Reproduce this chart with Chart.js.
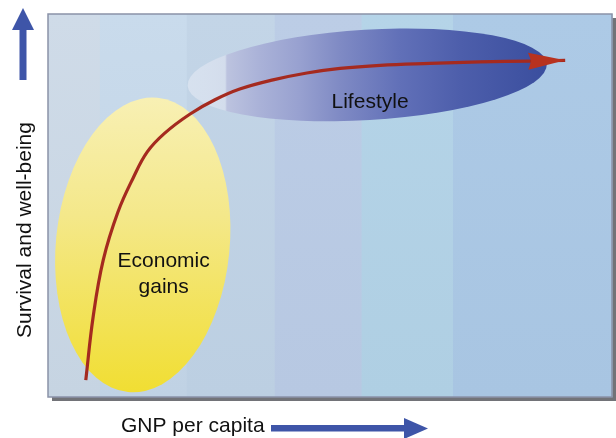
<!DOCTYPE html>
<html><head><meta charset="utf-8">
<script src="https://cdn.jsdelivr.net/npm/chart.js@4/dist/chart.umd.min.js"></script>
<style>html,body{margin:0;padding:0;background:#fff;}canvas{display:block;}</style>
</head><body>
<canvas id="c" width="616" height="438"></canvas>
<script>
// Development path (conceptual): x = GNP per capita, y = survival and well-being (0-100 scale)
const pathX = [6.7, 8.0, 9.8, 12.4, 15.1, 17.6, 20.7, 25.2, 29.6, 34.0, 39.9, 45.9, 51.8, 58.9, 67.7, 76.6, 85.5, 91.7];
const pathY = [4.4, 20.9, 35.8, 48.3, 57.2, 64.0, 68.9, 73.9, 77.6, 80.4, 82.8, 84.6, 85.8, 86.6, 87.1, 87.5, 87.7, 87.9];

// Regions (ellipses) in the same data units
const regionNames = ['Economic gains', 'Lifestyle'];
const regionCX = [16.8, 56.6];
const regionCY = [39.7, 84.1];
const regionRX = [15.4, 31.9];
const regionRY = [38.6, 11.8];

// Background bands along the GNP axis
const bandEdges = [0, 9.2, 24.6, 40.2, 55.6, 71.8, 100];

const axisTitles = ['GNP per capita', 'Survival and well-being'];

const FONT = '21px "Liberation Sans", Arial, Helvetica, sans-serif';
const bandTop = ['#cfdbe8', '#c9dbec', '#c3d5e7', '#bccde6', '#b5d4e8', '#adcae6'];
const bandBot = ['#c6d4e2', '#c0d2e4', '#bccfe2', '#b7c8e2', '#afcfe3', '#a8c5e2'];

const diagram = {
  id: 'diagram',
  beforeDatasetsDraw(chart) {
    const {ctx, chartArea: a, scales: {x, y}} = chart;
    ctx.save();
    // shadow
    ctx.fillStyle = '#727378';
    ctx.fillRect(a.left + 4, a.top + 4, a.width, a.height);
    // bands
    for (let i = 0; i < bandEdges.length - 1; i++) {
      const x0 = x.getPixelForValue(bandEdges[i]);
      const x1 = x.getPixelForValue(bandEdges[i + 1]);
      const g = ctx.createLinearGradient(0, a.top, 0, a.bottom);
      g.addColorStop(0, bandTop[i]);
      g.addColorStop(1, bandBot[i]);
      ctx.fillStyle = g;
      ctx.fillRect(x0, a.top, x1 - x0 + 0.5, a.height);
    }
    // border
    ctx.strokeStyle = '#8a92a8';
    ctx.lineWidth = 1.5;
    ctx.strokeRect(a.left, a.top, a.width, a.height);

    const px = i => ({
      cx: x.getPixelForValue(regionCX[i]),
      cy: y.getPixelForValue(regionCY[i]),
      rx: x.getPixelForValue(regionCX[i] + regionRX[i]) - x.getPixelForValue(regionCX[i]),
      ry: y.getPixelForValue(regionCY[i]) - y.getPixelForValue(regionCY[i] + regionRY[i])
    });

    // Lifestyle ellipse (blue, horizontal gradient)
    const b = px(1);
    const gb = ctx.createLinearGradient(b.cx - b.rx, 0, b.cx + b.rx, 0);
    gb.addColorStop(0.00, 'rgba(228,234,244,0.6)');
    gb.addColorStop(0.105, 'rgba(214,222,237,0.85)');
    gb.addColorStop(0.11, '#bcc3df');
    gb.addColorStop(0.20, '#aab2d8');
    gb.addColorStop(0.31, '#98a1d0');
    gb.addColorStop(0.425, '#7f8ac4');
    gb.addColorStop(0.59, '#6170b8');
    gb.addColorStop(0.76, '#4d5eab');
    gb.addColorStop(1.00, '#3a4e9e');
    ctx.fillStyle = gb;
    ctx.beginPath();
    ctx.ellipse(b.cx, b.cy, b.rx, b.ry, -0.06, 0, Math.PI * 2);
    ctx.fill();

    // Economic gains ellipse (yellow, vertical gradient)
    const e = px(0);
    const gy = ctx.createLinearGradient(0, e.cy - e.ry, 0, e.cy + e.ry);
    gy.addColorStop(0, '#f8f0b4');
    gy.addColorStop(0.4, '#f4e88a');
    gy.addColorStop(1, '#f1de32');
    ctx.fillStyle = gy;
    ctx.beginPath();
    ctx.ellipse(e.cx, e.cy, e.rx, e.ry, 0.1, 0, Math.PI * 2);
    ctx.fill();
    ctx.restore();
  },
  afterDatasetsDraw(chart) {
    const {ctx, chartArea: a, scales: {x, y}} = chart;
    ctx.save();
    // arrowhead at end of path
    const n = pathX.length;
    const tx = x.getPixelForValue(pathX[n - 1]), ty = y.getPixelForValue(pathY[n - 1]);
    const sx = x.getPixelForValue(pathX[n - 2]), sy = y.getPixelForValue(pathY[n - 2]);
    let dx = tx - sx, dy = ty - sy;
    const L = Math.hypot(dx, dy); dx /= L; dy /= L;
    const len = 37, hw = 8.5;
    const bx = tx - dx * len, by = ty - dy * len;
    ctx.fillStyle = '#b8321f';
    ctx.beginPath();
    ctx.moveTo(tx, ty);
    ctx.lineTo(bx - dy * hw, by + dx * hw);
    ctx.lineTo(bx + dx * 3, by + dy * 3);
    ctx.lineTo(bx + dy * hw, by - dx * hw);
    ctx.closePath();
    ctx.fill();

    // region labels
    ctx.fillStyle = '#111';
    ctx.font = FONT;
    ctx.textAlign = 'center';
    ctx.textBaseline = 'middle';
    ctx.fillText(regionNames[1], x.getPixelForValue(57.1), y.getPixelForValue(77.0));
    const words = regionNames[0].split(' ');
    const ex = x.getPixelForValue(20.5);
    ctx.fillText(words[0], ex, y.getPixelForValue(35.4));
    ctx.fillText(words[1], ex, y.getPixelForValue(28.6));

    // axis arrows
    ctx.fillStyle = '#3e55a8';
    // up arrow
    ctx.fillRect(19.5, 29, 7, 51);
    ctx.beginPath();
    ctx.moveTo(12, 30); ctx.lineTo(34, 30); ctx.lineTo(23, 8); ctx.closePath(); ctx.fill();
    // right arrow
    ctx.fillRect(271, 425, 134, 6.5);
    ctx.beginPath();
    ctx.moveTo(404, 418); ctx.lineTo(404, 439); ctx.lineTo(428, 428.5); ctx.closePath(); ctx.fill();

    // axis titles
    ctx.fillStyle = '#111';
    ctx.textAlign = 'left';
    ctx.textBaseline = 'alphabetic';
    ctx.fillText(axisTitles[0], 121, 432);
    ctx.save();
    ctx.translate(31, 230);
    ctx.rotate(-Math.PI / 2);
    ctx.textAlign = 'center';
    ctx.fillText(axisTitles[1], 0, 0);
    ctx.restore();
    ctx.restore();
  }
};

new Chart(document.getElementById('c'), {
  type: 'scatter',
  data: {
    datasets: [{
      data: pathX.map((v, i) => ({x: v, y: pathY[i]})),
      showLine: true,
      borderColor: '#a52a1f',
      borderWidth: 3.2,
      borderCapStyle: 'butt',
      borderJoinStyle: 'round',
      pointRadius: 0,
      tension: 0.4,
      fill: false
    }]
  },
  options: {
    responsive: false,
    animation: false,
    layout: {padding: {left: 48, top: 14, right: 4, bottom: 41}},
    plugins: {legend: {display: false}, tooltip: {enabled: false}},
    scales: {
      x: {type: 'linear', min: 0, max: 100, display: false},
      y: {type: 'linear', min: 0, max: 100, display: false}
    }
  },
  plugins: [diagram]
});
</script>
</body></html>
